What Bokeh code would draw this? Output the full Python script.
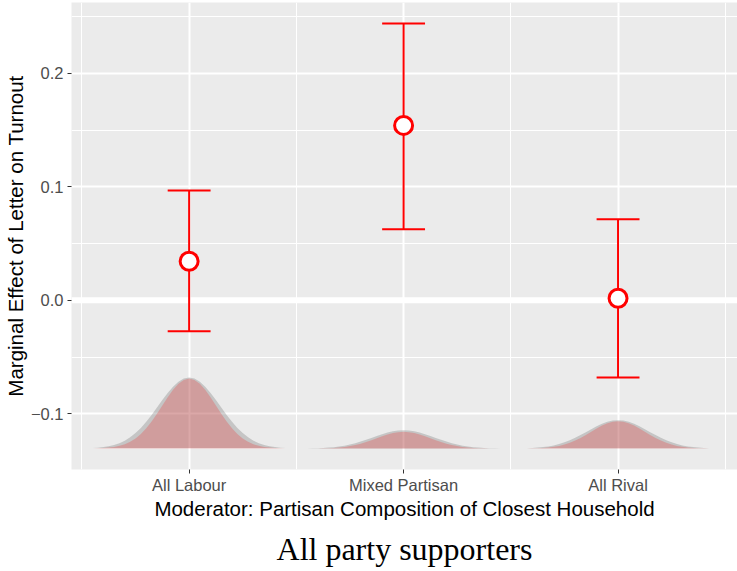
import numpy as np
from bokeh.plotting import figure
from bokeh.models import FixedTicker, Span, Title, Range1d
from bokeh.embed import file_html
from bokeh.resources import INLINE

# ---- data ----
categories = ["All Labour", "Mixed Partisan", "All Rival"]
cat_pos = [1, 2, 3]
estimate = [0.0344, 0.1542, 0.0018]
ci_lower = [-0.0273, 0.0626, -0.0681]
ci_upper = [0.0969, 0.2440, 0.0714]

# density humps (baseline and peak heights above the baseline)
dens_base = -0.1307
dens_gray_peak = [0.0626, 0.0162, 0.0250]
dens_red_peak = [0.0617, 0.0147, 0.0241]
# relative hump profile (half, symmetric), offsets from category centre
profile_offset = [0.0, 0.025, 0.05, 0.075, 0.10, 0.125, 0.15, 0.175, 0.20, 0.225,
                  0.25, 0.275, 0.30, 0.325, 0.35, 0.375, 0.40, 0.425, 0.45]
profile_gray = [1.0, 0.9848, 0.9407, 0.8715, 0.7831, 0.6824, 0.5769, 0.4729, 0.3760, 0.2900,
                0.2169, 0.1574, 0.1107, 0.0756, 0.0500, 0.0321, 0.0200, 0.0121, 0.0071]
profile_red = [1.0, 0.9808, 0.9254, 0.8400, 0.7334, 0.6161, 0.4978, 0.3870, 0.2894, 0.2082,
               0.1441, 0.0959, 0.0614, 0.0379, 0.0224, 0.0128, 0.0070, 0.0037, 0.0019]

y_ticks = [-0.1, 0.0, 0.1, 0.2]
y_tick_labels = ["\u22120.1", "0.0", "0.1", "0.2"]
y_minor = [-0.15, -0.05, 0.05, 0.15, 0.25]
x_minor = [0.5, 1.5, 2.5, 3.5]

cap_half = 0.1

p = figure(width=737, height=580,
           x_range=Range1d(0.4515, 3.557), y_range=Range1d(-0.1492, 0.2626),
           output_backend="svg", toolbar_location=None,
           min_border_left=65, min_border_right=0, min_border_top=2, min_border_bottom=111)
p.background_fill_color = "#EBEBEB"
p.border_fill_color = "white"
p.outline_line_color = None

xt = FixedTicker(ticks=cat_pos, minor_ticks=x_minor)
yt = FixedTicker(ticks=y_ticks, minor_ticks=y_minor)
p.xaxis.ticker = xt
p.yaxis.ticker = yt
p.xgrid[0].ticker = xt
p.ygrid[0].ticker = yt
for g in (p.xgrid[0], p.ygrid[0]):
    g.grid_line_color = "white"
    g.grid_line_width = 2
    g.minor_grid_line_color = "white"
    g.minor_grid_line_width = 1

p.xaxis.major_label_overrides = {c: l for c, l in zip(cat_pos, categories)}
p.yaxis.major_label_overrides = {t: l for t, l in zip(y_ticks, y_tick_labels)}

for ax in (p.xaxis[0], p.yaxis[0]):
    ax.axis_line_color = None
    ax.minor_tick_line_color = None
    ax.major_tick_line_color = "#333333"
    ax.major_tick_line_width = 1
    ax.major_tick_in = 0
    ax.major_tick_out = 4
    ax.major_label_text_font = "Liberation Sans"
    ax.major_label_text_font_size = "16.5px"
    ax.major_label_text_color = "#4D4D4D"
    ax.axis_label_text_font = "Liberation Sans"
    ax.axis_label_text_font_size = "20.5px"
    ax.axis_label_text_font_style = "normal"
    ax.axis_label_text_color = "black"

p.xaxis.axis_label = "Moderator: Partisan Composition of Closest Household"
p.yaxis.axis_label = "Marginal Effect of Letter on Turnout"
p.xaxis.major_label_standoff = 2
p.xaxis.axis_label_standoff = 0
p.yaxis.major_label_standoff = 4
p.yaxis.axis_label_standoff = 1

# zero line
p.add_layout(Span(location=0, dimension="width", line_color="white",
                  line_width=6, level="underlay"))

# density humps
off = np.r_[-np.array(profile_offset[::-1]), np.array(profile_offset[1:])]
pg = np.r_[np.array(profile_gray[::-1]), np.array(profile_gray[1:])]
pr = np.r_[np.array(profile_red[::-1]), np.array(profile_red[1:])]
gx, gy, rx, ry = [], [], [], []
for c, hg, hr in zip(cat_pos, dens_gray_peak, dens_red_peak):
    gx.append(list(c + off)); gy.append(list(dens_base + hg * pg))
    rx.append(list(c + off)); ry.append(list(dens_base + hr * pr))
p.patches(gx, gy, fill_color="#7F7F7F", fill_alpha=0.35, line_color=None)
p.patches(rx, ry, fill_color="red", fill_alpha=0.2, line_color=None)

# error bars
cp = np.array(cat_pos, dtype=float)
p.segment(x0=cp, y0=ci_lower, x1=cp, y1=ci_upper, line_color="red", line_width=2)
p.segment(x0=cp - cap_half, y0=ci_lower, x1=cp + cap_half, y1=ci_lower, line_color="red", line_width=2)
p.segment(x0=cp - cap_half, y0=ci_upper, x1=cp + cap_half, y1=ci_upper, line_color="red", line_width=2)

# point estimates
p.scatter(x=cp, y=estimate, marker="circle", size=18, fill_color="white",
          line_color="red", line_width=3)

t = Title(text="All party supporters", align="center", text_font="Liberation Serif",
          text_font_size="32px", text_font_style="normal", text_color="black", standoff=13)
p.add_layout(t, "below")

open("out.html", "w").write(file_html(p, INLINE))
